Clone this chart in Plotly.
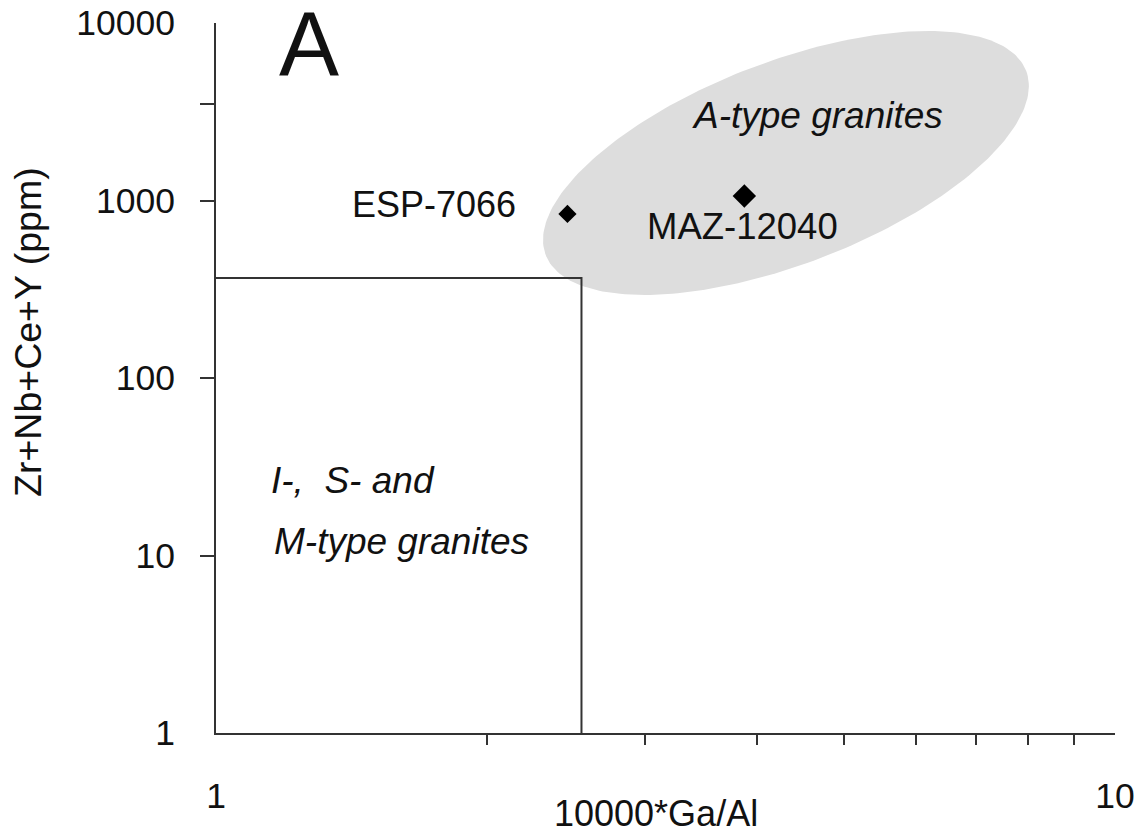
import numpy as np
import plotly.graph_objects as go

# ---- data ----
samples = ["ESP-7066", "MAZ-12040"]
ga_al = [2.46, 3.87]            # 10000*Ga/Al
zr_sum = [840, 1060]            # Zr+Nb+Ce+Y (ppm)
marker_sizes = [14, 18]

# I-, S- and M-type field boundary (Whalen et al.)
field_ga_al = 2.55
field_zr_sum = 366

# A-type field (ellipse, defined in log10 space)
ell_center = (4.305, 1627)
ell_vec_a = (0.2672, 0.519)     # log10 units
ell_vec_b = (-0.0403, 0.5323)

x_ticks = [1, 10]
x_ticklabels = ["1", "10"]
x_minor = [1, 2, 3, 4, 5, 6, 7, 8, 9]
y_ticks = [1, 10, 100, 1000, 10000]
y_ticklabels = ["1", "10", "100", "1000", "10000"]
y_minor = [1, 10, 100, 1000, 3500]

FONT = "Arial, Liberation Sans, sans-serif"
AX = "#333333"
TXT = "#111111"

fig = go.Figure()

# ellipse
t = np.linspace(0, 2 * np.pi, 240)
lx = np.log10(ell_center[0]) + ell_vec_a[0] * np.cos(t) + ell_vec_b[0] * np.sin(t)
ly = np.log10(ell_center[1]) + ell_vec_a[1] * np.cos(t) + ell_vec_b[1] * np.sin(t)
fig.add_trace(go.Scatter(x=10 ** lx, y=10 ** ly, mode="lines", fill="toself",
                         fillcolor="#dddddd", line=dict(width=0), hoverinfo="skip",
                         showlegend=False))

# rectangle field
fig.add_trace(go.Scatter(x=[1, field_ga_al, field_ga_al], y=[field_zr_sum, field_zr_sum, 1],
                         mode="lines", line=dict(color=AX, width=2), hoverinfo="skip",
                         showlegend=False))

# samples
fig.add_trace(go.Scatter(x=ga_al, y=zr_sum, mode="markers", text=samples,
                         marker=dict(symbol="diamond", color="#000000", size=marker_sizes,
                                     opacity=1, line=dict(width=0)),
                         showlegend=False))

L = np.log10
ann = []
ann.append(dict(x=L(1.27), y=L(7600), xref="x", yref="y", text="A", showarrow=False,
                font=dict(size=90, family=FONT, color=TXT), xanchor="center", yanchor="middle"))
ann.append(dict(x=L(3.37), y=L(3000), xref="x", yref="y", text="<i>A-type granites</i>", showarrow=False,
                font=dict(size=37, family=FONT, color=TXT), xanchor="left", yanchor="middle"))
ann.append(dict(x=0.3358, y=L(955), xref="x", yref="y", text=samples[0], showarrow=False,
                font=dict(size=36, family=FONT, color=TXT), xanchor="right", yanchor="middle"))
ann.append(dict(x=0.477, y=L(713), xref="x", yref="y", text=samples[1], showarrow=False,
                font=dict(size=36.5, family=FONT, color=TXT), xanchor="left", yanchor="middle"))
ann.append(dict(x=L(1.144), y=L(26.3), xref="x", yref="y", text="<i>I-,\u00a0 S- and</i>", showarrow=False,
                font=dict(size=37, family=FONT, color=TXT), xanchor="left", yanchor="middle"))
ann.append(dict(x=L(1.155), y=L(12.07), xref="x", yref="y", text="<i>M-type granites</i>", showarrow=False,
                font=dict(size=37, family=FONT, color=TXT), xanchor="left", yanchor="middle"))
# axis titles
ann.append(dict(x=-0.209, y=0.565, xref="paper", yref="paper", text="Zr+Nb+Ce+Y (ppm)", showarrow=False,
                textangle=-90, font=dict(size=37.5, family=FONT, color=TXT),
                xanchor="center", yanchor="middle"))
ann.append(dict(x=0.4894, y=-0.113, xref="paper", yref="paper", text="10000*Ga/Al", showarrow=False,
                font=dict(size=36, family=FONT, color=TXT), xanchor="center", yanchor="middle"))

fig.update_layout(
    width=1139, height=830, autosize=False,
    margin=dict(l=216, r=24, t=23, b=97, autoexpand=False),
    paper_bgcolor="white", plot_bgcolor="white",
    font=dict(family=FONT, color=TXT),
    annotations=ann,
    showlegend=False,
)
fig.update_xaxes(type="log", range=[0, 1], showgrid=False, zeroline=False, automargin=False,
                 showline=True, linecolor=AX, linewidth=2,
                 tickmode="array", tickvals=x_ticks, ticktext=x_ticklabels,
                 ticks="inside", ticklen=0, tickfont=dict(size=35.5, family=FONT, color=TXT),
                 ticklabelstandoff=30, ticklabeloverflow="allow",
                 minor=dict(tickmode="array", tickvals=x_minor, ticks="outside",
                            ticklen=10, tickwidth=2, tickcolor=AX, showgrid=False))
fig.update_yaxes(type="log", range=[0, 4], showgrid=False, zeroline=False, automargin=False,
                 showline=True, linecolor=AX, linewidth=2,
                 tickmode="array", tickvals=y_ticks, ticktext=y_ticklabels,
                 ticks="inside", ticklen=0, tickfont=dict(size=35.5, family=FONT, color=TXT),
                 ticklabelstandoff=32, ticklabeloverflow="allow",
                 minor=dict(tickmode="array", tickvals=y_minor, ticks="outside",
                            ticklen=14, tickwidth=2, tickcolor=AX, showgrid=False))

# remove the default 8px page margin so the figure fills the window exactly
fig.write_html("out.html", config={"displayModeBar": False},
               post_script="document.body.style.margin='0';document.body.style.overflow='hidden';")
